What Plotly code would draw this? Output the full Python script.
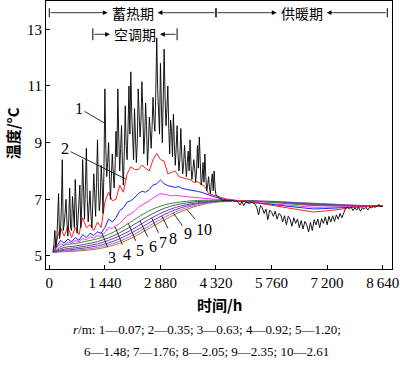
import numpy as np
import plotly.graph_objects as go

# ---------------- data ----------------
# curve 1 (r = 0.07 m): storage period, 24 h sampling; heating period, 48 h sampling
t1_storage = list(range(96, 4321, 24))
T1_storage = [5.15, 5.4, 5.9, 5.3, 5.5, 6.4, 7.2, 5.6, 5.8, 6.7,
              8.4, 5.9, 6.1, 6.5, 7.0, 6.2, 5.7, 6.3, 7.4, 6.0,
              5.9, 7.1, 6.6, 6.0, 7.7, 6.6, 5.8, 6.3, 6.9, 7.5,
              6.0, 6.8, 8.4, 7.2, 6.3, 7.5, 8.8, 7.0, 6.2, 6.8,
              7.3, 6.4, 6.0, 6.9, 7.9, 7.2, 6.4, 7.6, 9.1, 7.4,
              6.6, 7.0, 8.2, 7.6, 6.5, 8.0, 10.9, 8.8, 7.8, 8.3,
              9.0, 7.9, 7.0, 7.8, 8.6, 8.0, 7.4, 8.1, 9.4, 8.5,
              10.9, 9.2, 8.0, 8.8, 9.6, 8.2, 7.5, 8.7, 10.3, 8.9,
              8.4, 9.5, 11.0, 9.3, 11.5, 10.0, 9.0, 8.4, 10.2, 9.5,
              8.3, 9.0, 10.9, 10.0, 9.2, 9.8, 11.15, 10.1, 8.6, 9.2,
              10.4, 9.6, 8.2, 8.9, 9.9, 9.4, 8.8, 9.6, 10.6, 9.8,
              9.4, 10.8, 12.7, 10.9, 10.0, 9.3, 11.8, 10.4, 9.0, 10.5,
              12.3, 10.6, 9.6, 10.2, 11.0, 9.5, 8.6, 9.8, 9.4, 8.5,
              10.0, 9.0, 8.2, 8.8, 9.6, 8.6, 8.0, 8.4, 9.5, 8.6,
              7.9, 8.2, 8.9, 8.4, 7.8, 8.3, 8.7, 8.0, 9.1, 8.2,
              7.7, 8.0, 8.4, 8.1, 7.6, 8.0, 8.9, 8.1, 9.2, 8.3,
              7.5, 7.7, 8.3, 7.6, 8.6, 7.8, 7.3, 7.5, 7.8, 7.4,
              7.2, 7.6, 7.9, 7.3, 8.0, 7.4, 7.15]
t1_heating = list(range(4368, 8641, 48))
T1_heating = [7.1, 7.02, 6.98, 6.95, 6.97, 6.94, 6.96, 6.93, 6.96, 6.92,
              6.94, 6.9, 6.8, 6.92, 6.78, 6.9, 6.88, 6.85, 6.9, 6.88,
              6.84, 6.72, 6.45, 6.78, 6.7, 6.5, 6.65, 6.28, 6.62, 6.55,
              6.4, 6.58, 6.3, 6.5, 6.45, 6.2, 6.42, 6.1, 6.4, 6.3,
              6.05, 6.35, 6.15, 6.3, 6.0, 6.25, 5.95, 6.22, 6.1, 5.85,
              6.18, 5.9, 6.28, 6.1, 6.3, 6.0, 6.32, 6.15, 6.38, 6.1,
              6.4, 6.2, 6.42, 6.22, 6.45, 6.3, 6.5, 6.35, 6.55, 6.68,
              6.72, 6.66, 6.72, 6.6, 6.7, 6.62, 6.72, 6.58, 6.7, 6.65,
              6.72, 6.62, 6.72, 6.7, 6.74, 6.72, 6.76, 6.82, 6.74, 6.76]

# curves 2-4: 96 h sampling in storage, coarser in heating
tA = list(range(96, 4321, 96)) + [4560, 4800, 5040, 5280, 5520, 5760, 6000, 6240, 6480,
                                  6720, 6840, 7080, 7320, 7560, 7800, 8040, 8280, 8640]
T2 = [5.13, 5.6, 6.0, 5.7, 6.05, 5.65, 6.0, 5.75, 6.35, 6.0,
      6.1, 5.9, 6.2, 6.0, 6.9, 7.25, 6.95, 7.0, 7.5, 7.25,
      7.9, 8.15, 8.05, 8.05, 8.2, 8.1, 8.0, 8.4, 8.62, 8.4,
      8.35, 7.9, 7.95, 8.0, 7.8, 7.75, 7.72, 7.7, 7.6, 7.62,
      7.55, 7.45, 7.2, 7.15, 7.12,
      7.02, 6.97, 6.95, 6.9, 6.84, 6.79, 6.75, 6.7, 6.65, 6.58,
      6.55, 6.58, 6.62, 6.65, 6.72, 6.73, 6.74, 6.76]
T3 = [5.13, 5.35, 5.55, 5.45, 5.6, 5.5, 5.65, 5.55, 5.75, 5.65,
      5.8, 5.72, 5.85, 5.8, 6.0, 6.3, 6.2, 6.35, 6.6, 6.7,
      6.9, 6.95, 7.05, 7.2, 7.28, 7.25, 7.35, 7.5, 7.55, 7.68,
      7.55, 7.48, 7.45, 7.42, 7.45, 7.38, 7.35, 7.33, 7.32, 7.28,
      7.25, 7.2, 7.15, 7.1, 7.07,
      6.99, 6.96, 6.93, 6.9, 6.86, 6.82, 6.78, 6.75, 6.71, 6.68,
      6.66, 6.67, 6.69, 6.7, 6.73, 6.74, 6.75, 6.76]
T4 = [5.13, 5.3, 5.42, 5.38, 5.5, 5.45, 5.55, 5.5, 5.62, 5.57,
      5.68, 5.63, 5.72, 5.7, 5.82, 6.0, 5.97, 6.05, 6.15, 6.28,
      6.42, 6.48, 6.58, 6.72, 6.8, 6.85, 6.95, 7.05, 7.12, 7.2,
      7.18, 7.15, 7.12, 7.14, 7.12, 7.1, 7.09, 7.08, 7.07, 7.05,
      7.04, 7.03, 7.02, 7.01, 7.0,
      6.98, 6.96, 6.94, 6.91, 6.88, 6.85, 6.82, 6.79, 6.76, 6.73,
      6.72, 6.72, 6.73, 6.74, 6.75, 6.75, 6.76, 6.76]

# curves 5-10: smooth, coarse sampling
tB = [96, 384, 672, 960, 1248, 1536, 1824, 2112, 2400, 2688, 2976, 3264, 3552,
      3840, 4128, 4416, 4800, 5280, 5760, 6240, 6720, 7200, 7680, 8160, 8640]
T5 = [5.13, 5.38, 5.44, 5.52, 5.61, 5.76, 5.96, 6.2, 6.45, 6.66, 6.8, 6.88, 6.93,
      6.96, 6.97, 6.97, 6.96, 6.93, 6.89, 6.84, 6.79, 6.77, 6.76, 6.75, 6.75]
T6 = [5.13, 5.3, 5.35, 5.42, 5.51, 5.64, 5.82, 6.04, 6.28, 6.5, 6.68, 6.8, 6.87,
      6.92, 6.94, 6.95, 6.96, 6.93, 6.9, 6.86, 6.81, 6.79, 6.77, 6.76, 6.75]
T7 = [5.13, 5.24, 5.29, 5.35, 5.43, 5.55, 5.71, 5.91, 6.14, 6.37, 6.56, 6.71, 6.81,
      6.88, 6.92, 6.94, 6.96, 6.94, 6.91, 6.87, 6.83, 6.8, 6.78, 6.76, 6.75]
T8 = [5.13, 5.2, 5.24, 5.29, 5.36, 5.46, 5.61, 5.8, 6.02, 6.25, 6.46, 6.63, 6.76,
      6.85, 6.9, 6.93, 6.96, 6.94, 6.92, 6.88, 6.85, 6.82, 6.79, 6.77, 6.75]
T9 = [5.13, 5.17, 5.2, 5.24, 5.3, 5.39, 5.52, 5.7, 5.92, 6.14, 6.36, 6.55, 6.7,
      6.81, 6.88, 6.92, 6.95, 6.94, 6.92, 6.89, 6.86, 6.83, 6.8, 6.77, 6.75]
T10 = [5.13, 5.15, 5.17, 5.2, 5.25, 5.33, 5.45, 5.62, 5.83, 6.05, 6.27, 6.47, 6.64,
       6.77, 6.86, 6.91, 6.95, 6.94, 6.93, 6.9, 6.87, 6.84, 6.81, 6.78, 6.76]

radii = ["0.07", "0.35", "0.63", "0.92", "1.20", "1.48", "1.76", "2.05", "2.35", "2.61"]
x_ticks = [0, 1440, 2880, 4320, 5760, 7200, 8640]
x_ticktext = ["0", "1\u2009440", "2\u2009880", "4\u2009320", "5\u2009760", "7\u2009200", "8\u2009640"]
y_ticks = [5, 7, 9, 11, 13]
periods = [("蓄热期", 0, 4320, 0), ("供暖期", 4320, 8760, 0), ("空调期", 1128, 3312, 1)]

# ---------------- styling ----------------
SERIF = "Liberation Serif, Times New Roman, serif"
CJK = "Noto Sans CJK SC"
colors = ["#000000", "#ff2020", "#2020ff", "#ff30ff", "#3a8a3a",
          "#50507a", "#7a3a9a", "#4a4ad0", "#c060c0", "#a8782a"]

t1 = t1_storage + t1_heating
T1 = T1_storage + T1_heating
series = [(t1, T1), (tA, T2), (tA, T3), (tA, T4),
          (tB, T5), (tB, T6), (tB, T7), (tB, T8), (tB, T9), (tB, T10)]

fig = go.Figure()
for i in range(9, -1, -1):
    tx, ty = series[i]
    fig.add_trace(go.Scatter(
        x=tx, y=ty, mode="lines",
        line=dict(color=colors[i], width=0.9 if i == 0 else 1,
                  shape="spline" if i >= 4 else "linear"),
        showlegend=False, hoverinfo="skip"))

# curve labels with leader lines (tip on the curve, label position)
label_pos = [(1430, 770, 10.22), (1988, 407, 8.78), (1358, 1612, 4.96), (1703, 2001, 5.04),
             (2048, 2351, 5.18), (2351, 2675, 5.32), (2654, 2947, 5.46), (2913, 3206, 5.62),
             (3214, 3595, 5.79), (3561, 4010, 5.94)]
for i, (tt, lx, ly) in enumerate(label_pos):
    tx, ty = series[i]
    tip = float(np.interp(tt, tx, ty))
    fig.add_annotation(x=tt, y=tip, ax=lx, ay=ly, axref="x", ayref="y",
                       text=str(i + 1), showarrow=True, arrowhead=0, arrowwidth=0.8,
                       arrowcolor="black", standoff=0,
                       font=dict(family=SERIF, size=16, color="black"))

# period markers
row_y = [13.587, 12.825]
bar_h = [0.16, 0.21]
half_gap = 25 * 25.92
for name, a, b, row in periods:
    yy = row_y[row]
    c = (a + b) / 2
    fig.add_annotation(x=c, y=yy, text=name, showarrow=False,
                       xanchor="center", yanchor="middle",
                       font=dict(family=CJK, size=14, color="black"))
    for end, tipx in ((a, c - half_gap), (b, c + half_gap)):
        fig.add_annotation(x=tipx, y=yy, ax=end, ay=yy, axref="x", ayref="y", text="",
                           showarrow=True, arrowhead=2, arrowsize=1.2, arrowwidth=0.8,
                           arrowcolor="black", standoff=0, startstandoff=0)
        fig.add_shape(type="line", x0=end, x1=end, y0=yy - bar_h[row], y1=yy + bar_h[row],
                      xref="x", yref="y", line=dict(color="black", width=1))

# axis titles and caption
fig.add_annotation(xref="paper", yref="paper", x=0.5, y=-0.134, text="<b>时间/h</b>",
                   xanchor="center", yanchor="middle",
                   showarrow=False, font=dict(family=CJK, size=15, color="black"))
fig.add_annotation(xref="paper", yref="paper", x=-0.098, y=0.507, text="<b>温度/°C</b>",
                   xanchor="center", yanchor="middle",
                   textangle=-90, showarrow=False, font=dict(family=CJK, size=15, color="black"))
cap1 = "<i>r</i>/m: " + "; ".join(f"{k + 1}\u2014{radii[k]}" for k in range(5)) + ";"
cap2 = "; ".join(f"{k + 1}\u2014{radii[k]}" for k in range(5, 10))
fig.add_annotation(xref="paper", yref="paper", x=0.4653, y=-0.2276, text=cap1,
                   xanchor="center", yanchor="middle",
                   showarrow=False, font=dict(family=SERIF, size=13, color="black"))
fig.add_annotation(xref="paper", yref="paper", x=0.4653, y=-0.3097, text=cap2,
                   xanchor="center", yanchor="middle",
                   showarrow=False, font=dict(family=SERIF, size=13, color="black"))

fig.update_layout(
    template="none",
    width=400, height=368,
    margin=dict(l=46, r=8, t=1, b=99, autoexpand=False),
    paper_bgcolor="white", plot_bgcolor="white",
    xaxis=dict(range=[-86, 8882], tickvals=x_ticks, ticktext=x_ticktext, automargin=False,
               ticks="inside", ticklen=4, tickcolor="black",
               showline=True, linecolor="black", linewidth=1, mirror=True,
               showgrid=False, zeroline=False,
               tickfont=dict(family=SERIF, size=15, color="black")),
    yaxis=dict(range=[4.54, 14.0], tickvals=y_ticks, automargin=False,
               ticks="inside", ticklen=4, tickcolor="black",
               showline=True, linecolor="black", linewidth=1, mirror=True,
               showgrid=False, zeroline=False,
               tickfont=dict(family=SERIF, size=15, color="black")),
)

fig.write_html("out.html", config={"displayModeBar": False},
               post_script="document.body.style.margin='0';document.body.style.overflow='hidden';")
